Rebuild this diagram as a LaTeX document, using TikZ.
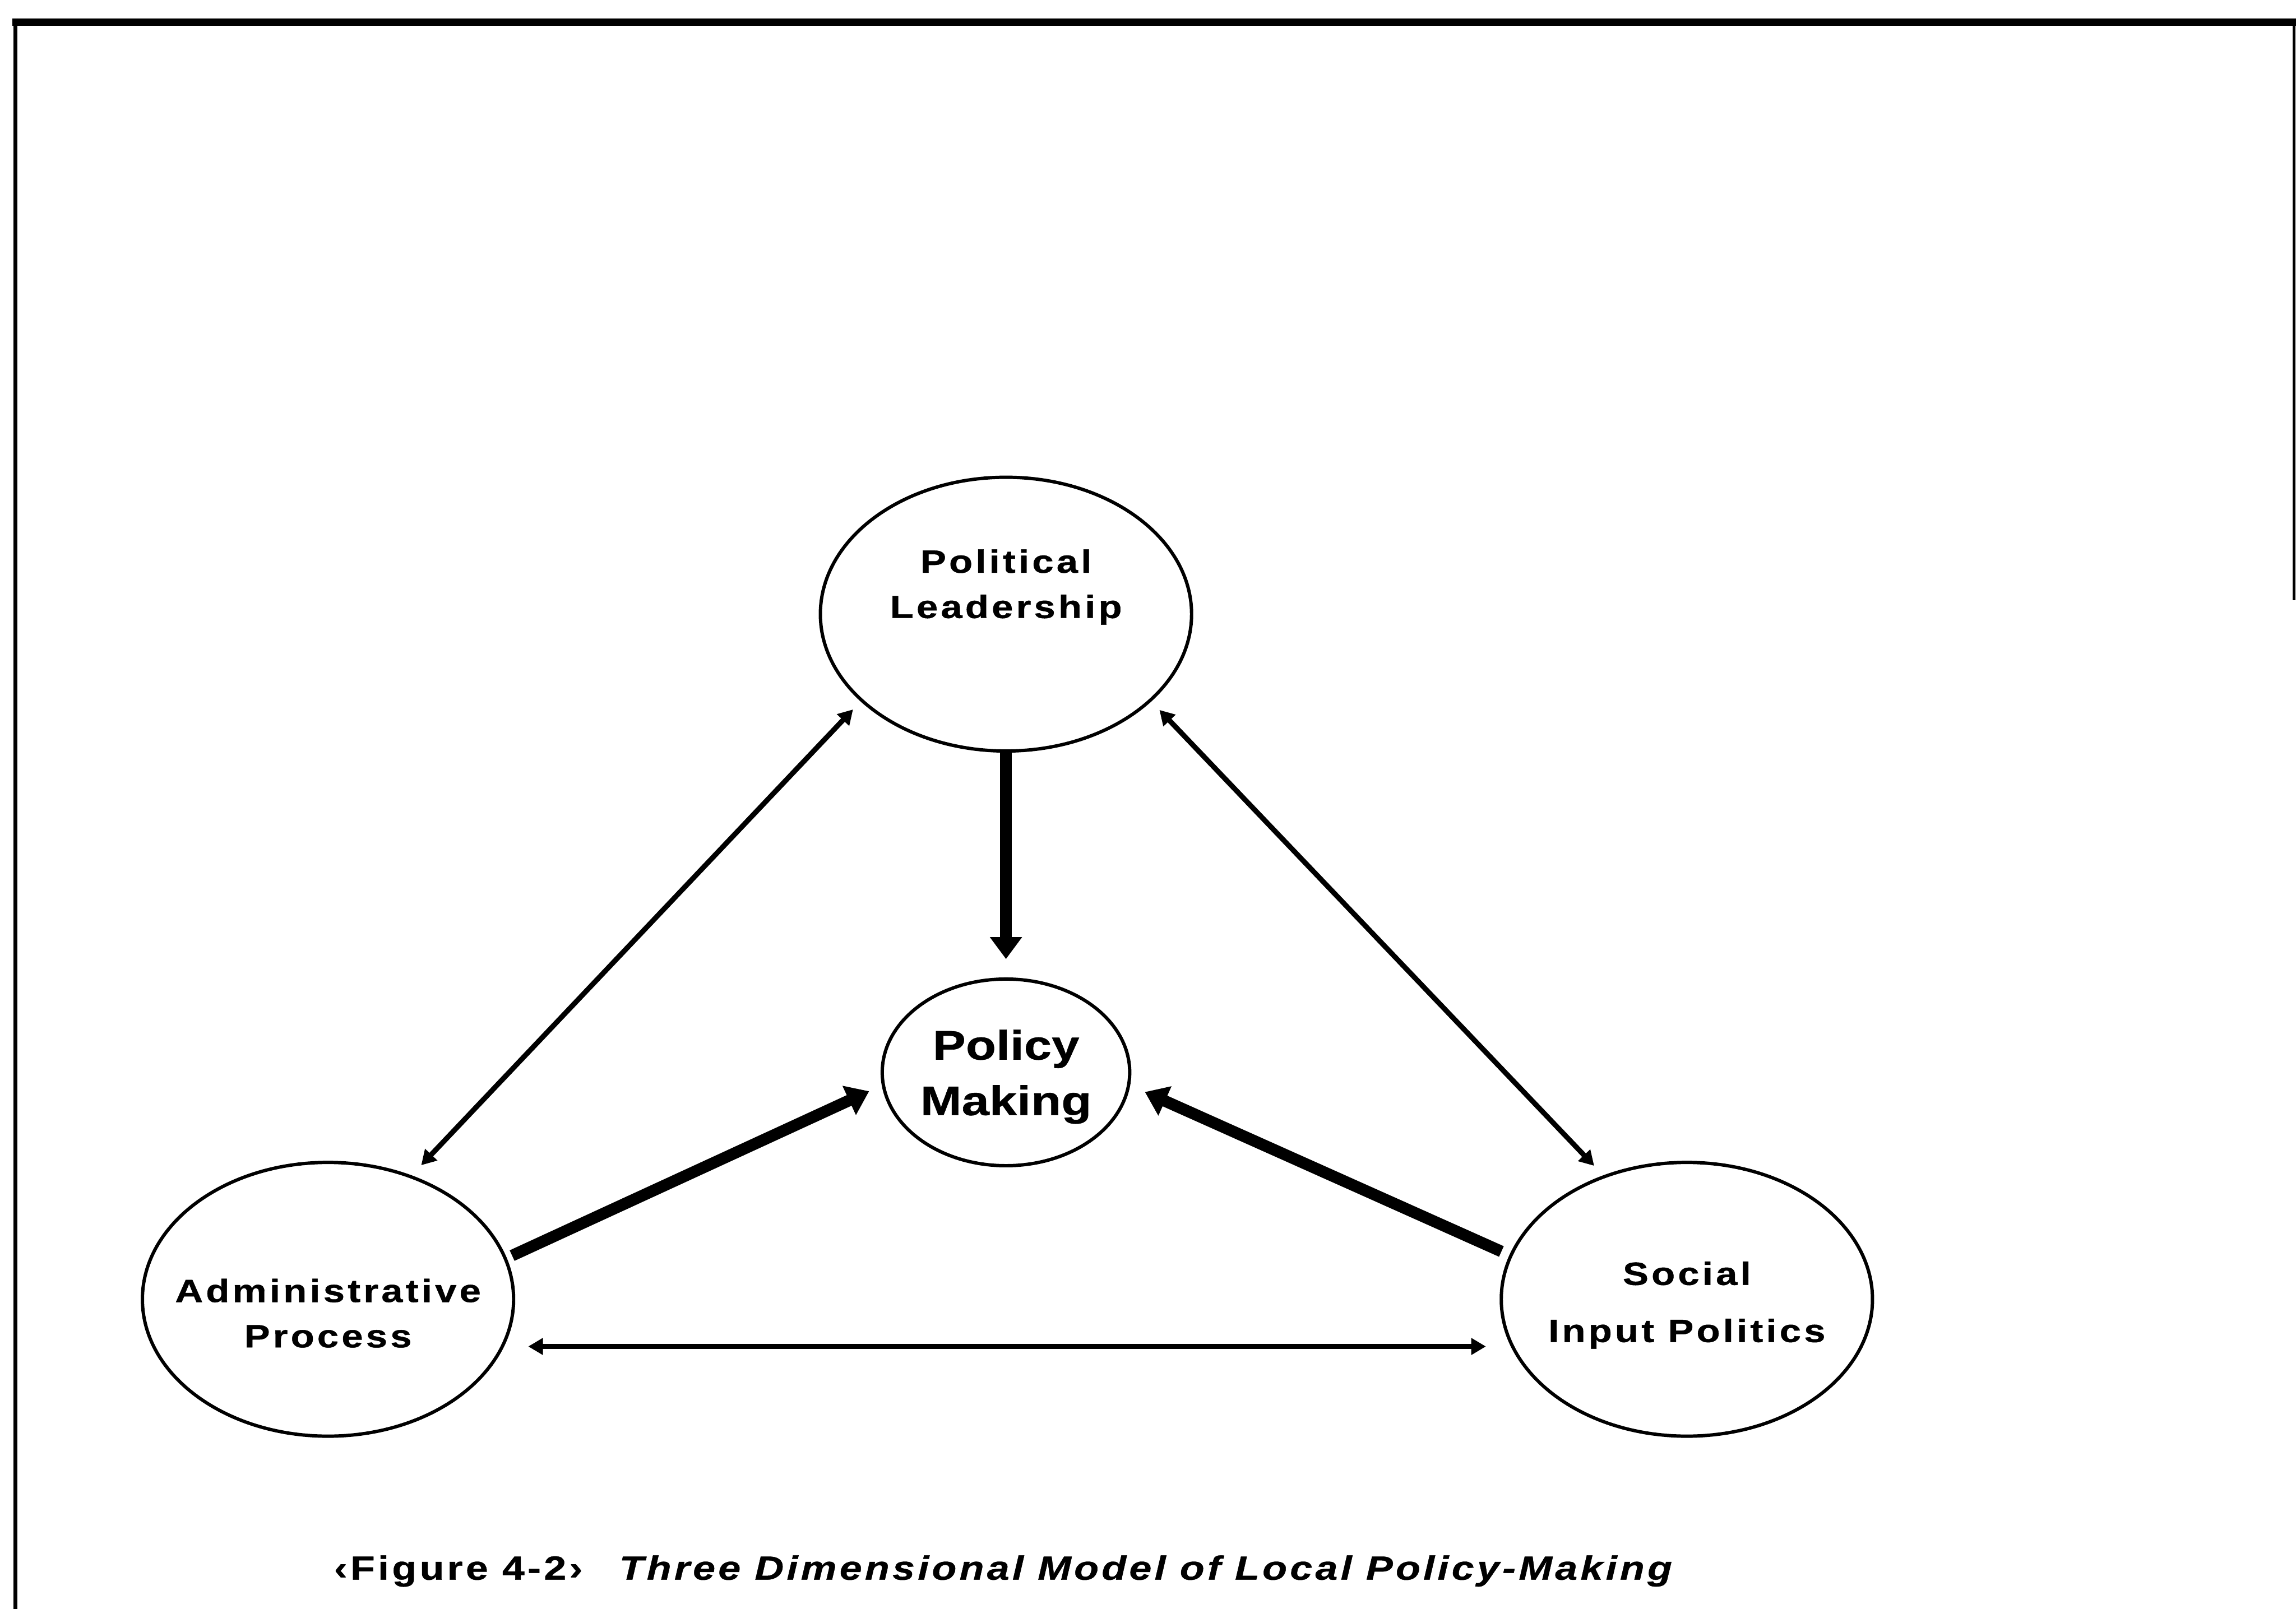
\documentclass[tikz,border=0pt]{standalone}
\usepackage{fontspec}
\setmainfont{Liberation Sans}[FakeStretch=1.2, LetterSpace=9,
    BoldFeatures={FakeBold=0.8}, BoldItalicFeatures={FakeBold=0.8}]
\newfontfamily\hubfont{Liberation Sans}[FakeStretch=1.2, LetterSpace=0.5,
    BoldFeatures={FakeBold=0.8}]
\usetikzlibrary{positioning,shapes.geometric,arrows.meta}

\tikzset{
    actor/.style={ellipse, draw, line width=1.3pt, minimum width=5.07cm, minimum height=3.74cm, inner sep=0pt},
    hub/.style={ellipse, draw, line width=1.3pt, minimum width=3.38cm, minimum height=2.55cm, inner sep=0pt,
        align=center, font=\hubfont\bfseries\fontsize{16}{21.6}\selectfont, text depth=0pt},
    nametext/.style={align=center, font=\bfseries\fontsize{12.5}{17.6}\selectfont},
    heavy/.style={line width=4.5pt, -{Triangle[length=3mm,width=4.2mm]}},
    light/.style={line width=2pt, {Triangle[length=2mm,width=2.2mm]}-{Triangle[length=2mm,width=2.2mm]}},
}

\begin{document}
\begin{tikzpicture}[node distance=6.26cm, on grid]
        \useasboundingbox (0,0) rectangle (31.36,-21.98);

        % border of the page
        \draw [line width=0.1cm] (0.17,-0.3) -- (31.36,-0.3);
        \draw [line width=0.06cm] (0.21,-0.25) -- (0.21,-21.98);
        \draw [line width=0.04cm] (31.33,-0.25) -- (31.33,-8.2);

        \node (pm) [hub] at (13.74,-14.65) {Policy\\Making};
        \node (pl) [actor, above=of pm,
                    label={[nametext, yshift=3.7mm]center:Political\\Leadership}] {};
        \node (ap) [actor, below left=3.10cm and 9.26cm of pm,
                    label={[nametext, yshift=-1.9mm]center:Administrative\\Process}] {};
        \node (sip) [actor, below right=3.10cm and 9.30cm of pm,
                    label={[nametext, yshift=-0.8mm]center:Social\\[4.6pt]Input Politics}] {};

        \path [heavy] (pl) edge [shorten >=0.25cm] (pm)
                      (ap.13) edge [shorten <=0.08cm, shorten >=0.19cm] (pm.186)
                      (sip.166) edge [shorten <=0.12cm, shorten >=0.22cm] (pm.-6);

        \path [light] (pl.211) edge [shorten <=0.15cm, shorten >=0.19cm] (ap.56)
                      (pl.-31) edge [shorten <=0.16cm, shorten >=0.18cm] (sip.124)
                      (ap.-15) edge [shorten <=0.33cm, shorten >=0.34cm] (sip.195);

        \node (caption) [anchor=base, font=\bfseries\fontsize{13}{15}\selectfont] at (13.72,-21.58)
              {‹Figure 4-2›\hspace{0.5cm}\textit{Three Dimensional Model of Local Policy-Making}};
\end{tikzpicture}
\end{document}
